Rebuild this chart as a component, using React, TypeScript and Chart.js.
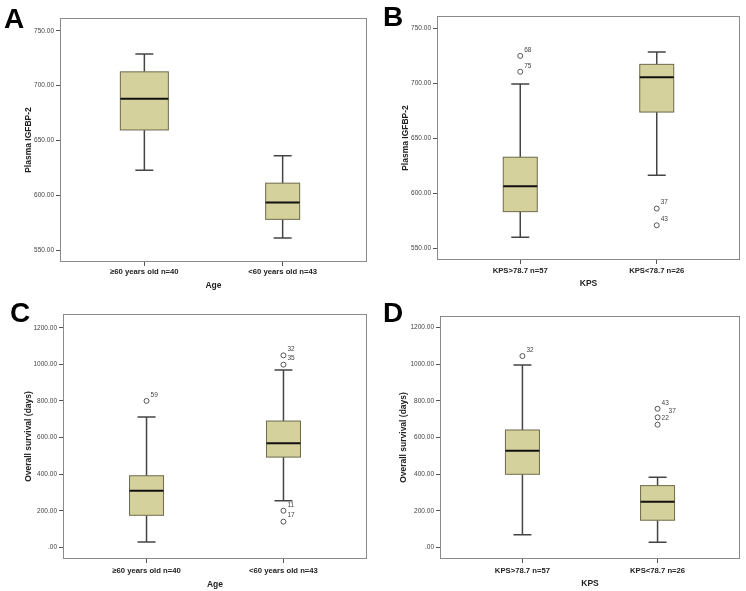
import React, { useEffect, useRef } from "react";
import { Chart, registerables } from "chart.js";
Chart.register(...registerables);

// ---------- data ----------
const AGE_GROUPS = ["≥60 years old n=40", "<60 years old n=43"];
const KPS_GROUPS = ["KPS>78.7 n=57", "KPS<78.7 n=26"];

const IGFBP_TICKS = [550, 600, 650, 700, 750];
const OS_TICKS = [0, 200, 400, 600, 800, 1000, 1200];

// [lower whisker, Q1, median, Q3, upper whisker]
const igfbpByAge = [
  [622.7, 659.5, 688, 712.5, 728.8],
  [561, 578, 593.4, 611, 636],
];
const igfbpByKps = [
  [560.3, 583.6, 606.6, 633, 699.4],
  [616.6, 674, 705.7, 717.3, 728.5],
];
const osByAge = [
  [29, 175, 309, 391, 712],
  [255, 493, 568, 690, 969],
];
const osByKps = [
  [69, 399, 528, 641, 996],
  [27, 148, 249, 337, 383],
];

// outliers: [group (1|2), value, case label]
const igfbpByAgeOutliers: [number, number, string][] = [];
const igfbpByKpsOutliers: [number, number, string][] = [
  [1, 725, "68"],
  [1, 710.6, "75"],
  [2, 586.4, "37"],
  [2, 571.2, "43"],
];
const osByAgeOutliers: [number, number, string][] = [
  [1, 800, "59"],
  [2, 1049, "32"],
  [2, 998, "35"],
  [2, 200, "11"],
  [2, 140, "17"],
];
const osByKpsOutliers: [number, number, string][] = [
  [1, 1045, "32"],
  [2, 757, "43"],
  [2, 710, "37"],
  [2, 670, "22"],
];

// ---------- styles ----------
const FONT = "'Liberation Sans', Arial, sans-serif";
const BOX_FILL = "#d5d19c";
const BOX_BORDER = "#6e6a4c";
const WHISKER = "#444";
const FRAME = "#8a8a8a";

type PanelCfg = {
  letter: string;
  left: number;
  top: number;
  w: number;
  h: number;
  area: { left: number; top: number; right: number; bottom: number };
  yMin: number;
  yMax: number;
  yTicks: number[];
  yTitle: string;
  yTitlePad: number;
  xTitle: string;
  xTitlePad: number;
  xLabelPad: number;
  cats: string[];
  boxes: number[][];
  boxWidths: number[];
  outliers: [number, number, string][];
  labelNudge?: Record<string, number>;
  letterPos: [number, number];
};

const PANELS: PanelCfg[] = [
  {
    letter: "A", left: 0, top: 0, w: 373, h: 295,
    area: { left: 60, top: 18, right: 367, bottom: 262 },
    yMin: 539.1, yMax: 761.6, yTicks: IGFBP_TICKS,
    yTitle: "Plasma IGFBP-2", yTitlePad: 23.4,
    xTitle: "Age", xTitlePad: 3.9, xLabelPad: 1.5,
    cats: AGE_GROUPS, boxes: igfbpByAge, boxWidths: [48, 34],
    outliers: igfbpByAgeOutliers, letterPos: [4, 28],
  },
  {
    letter: "B", left: 373, top: 0, w: 373, h: 295,
    area: { left: 64, top: 16, right: 367, bottom: 260 },
    yMin: 539.7, yMax: 761.2, yTicks: IGFBP_TICKS,
    yTitle: "Plasma IGFBP-2", yTitlePad: 27.6,
    xTitle: "KPS", xTitlePad: 5.9, xLabelPad: 2.1,
    cats: KPS_GROUPS, boxes: igfbpByKps, boxWidths: [34, 34],
    outliers: igfbpByKpsOutliers, letterPos: [10, 26],
  },
  {
    letter: "C", left: 0, top: 295, w: 373, h: 296,
    area: { left: 63, top: 19, right: 367, bottom: 264 },
    yMin: -63.9, yMax: 1274.9, yTicks: OS_TICKS,
    yTitle: "Overall survival (days)", yTitlePad: 23.2,
    xTitle: "Age", xTitlePad: 0.9, xLabelPad: 3.1,
    cats: AGE_GROUPS, boxes: osByAge, boxWidths: [34, 34],
    outliers: osByAgeOutliers, letterPos: [10, 27],
  },
  {
    letter: "D", left: 373, top: 295, w: 373, h: 296,
    area: { left: 67, top: 21, right: 367, bottom: 264 },
    yMin: -63.9, yMax: 1263.9, yTicks: OS_TICKS,
    yTitle: "Overall survival (days)", yTitlePad: 26,
    xTitle: "KPS", xTitlePad: 2.6, xLabelPad: 3.1,
    cats: KPS_GROUPS, boxes: osByKps, boxWidths: [34, 34],
    outliers: osByKpsOutliers, labelNudge: { "37": 7 }, letterPos: [10, 27],
  },
];

const boxPlugin = {
  id: "spssBoxes",
  beforeDatasetsDraw(chart: any, _args: any, opts: any) {
    const { ctx, chartArea: ca } = chart;
    const x = chart.scales.x;
    const y = chart.scales.y;
    const cfg: PanelCfg = opts.cfg;
    // frame
    ctx.save();
    ctx.strokeStyle = FRAME;
    ctx.lineWidth = 1;
    ctx.strokeRect(ca.left + 0.5, ca.top + 0.5, ca.right - ca.left - 1, ca.bottom - ca.top - 1);
    cfg.boxes.forEach((b, i) => {
      const cx = x.getPixelForValue(i + 1);
      const [lo, q1, med, q3, hi] = b.map((v) => y.getPixelForValue(v));
      const bw = cfg.boxWidths[i];
      const cap = 18;
      // whiskers
      ctx.strokeStyle = WHISKER;
      ctx.lineWidth = 1.5;
      ctx.beginPath();
      ctx.moveTo(cx, hi);
      ctx.lineTo(cx, q3);
      ctx.moveTo(cx, q1);
      ctx.lineTo(cx, lo);
      ctx.moveTo(cx - cap / 2, hi);
      ctx.lineTo(cx + cap / 2, hi);
      ctx.moveTo(cx - cap / 2, lo);
      ctx.lineTo(cx + cap / 2, lo);
      ctx.stroke();
      // box
      ctx.fillStyle = BOX_FILL;
      ctx.fillRect(cx - bw / 2, q3, bw, q1 - q3);
      ctx.strokeStyle = BOX_BORDER;
      ctx.lineWidth = 1;
      ctx.strokeRect(cx - bw / 2, q3, bw, q1 - q3);
      // median
      ctx.strokeStyle = "#111";
      ctx.lineWidth = 2;
      ctx.beginPath();
      ctx.moveTo(cx - bw / 2, med);
      ctx.lineTo(cx + bw / 2, med);
      ctx.stroke();
    });
    ctx.restore();
  },
  afterDatasetsDraw(chart: any, _args: any, opts: any) {
    const { ctx } = chart;
    const x = chart.scales.x;
    const y = chart.scales.y;
    const cfg: PanelCfg = opts.cfg;
    ctx.save();
    ctx.fillStyle = "#444";
    ctx.font = `6.5px ${FONT}`;
    ctx.textAlign = "left";
    ctx.textBaseline = "middle";
    cfg.outliers.forEach(([g, v, lab]) => {
      const px = x.getPixelForValue(g);
      const py = y.getPixelForValue(v);
      const nudge = (cfg.labelNudge && cfg.labelNudge[lab]) || 0;
      ctx.fillText(lab, px + 4 + nudge, py - 6);
    });
    // panel letter
    ctx.fillStyle = "#000";
    ctx.font = `bold 28px ${FONT}`;
    ctx.textBaseline = "alphabetic";
    ctx.fillText(cfg.letter, cfg.letterPos[0], cfg.letterPos[1]);
    ctx.restore();
  },
};

function BoxPanel({ cfg }: { cfg: PanelCfg }) {
  const ref = useRef<HTMLCanvasElement>(null);
  useEffect(() => {
    const chart = new Chart(ref.current as HTMLCanvasElement, {
      type: "scatter",
      data: {
        datasets: [
          {
            data: cfg.outliers.map(([g, v]) => ({ x: g, y: v })),
            pointRadius: 2.5,
            pointBorderWidth: 1,
            pointBorderColor: "#555",
            pointBackgroundColor: "#fff",
          },
        ],
      },
      options: {
        animation: false,
        responsive: false,
        maintainAspectRatio: false,
        events: [],
        layout: {
          padding: { left: 0, top: cfg.area.top, right: cfg.w - cfg.area.right, bottom: 0 },
        },
        plugins: {
          legend: { display: false },
          tooltip: { enabled: false },
          spssBoxes: { cfg },
        } as any,
        scales: {
          x: {
            type: "linear",
            min: 0.39,
            max: 2.61,
            afterBuildTicks: (s: any) => {
              s.ticks = cfg.cats.map((_, i) => ({ value: i + 1 }));
            },
            afterFit: (s: any) => {
              s.height = cfg.h - cfg.area.bottom;
            },
            ticks: {
              autoSkip: false,
              maxRotation: 0,
              padding: cfg.xLabelPad,
              color: "#222",
              font: { family: FONT, size: 7.7, weight: "bold" },
              callback: (v: any) => cfg.cats[Math.round(Number(v)) - 1] ?? "",
            },
            grid: { drawOnChartArea: false, drawTicks: true, tickLength: 4, color: "#555" },
            border: { display: false },
            title: {
              display: true,
              text: cfg.xTitle,
              color: "#222",
              font: { family: FONT, size: 8.5, weight: "bold" },
              padding: { top: 0, bottom: cfg.xTitlePad },
            },
          },
          y: {
            type: "linear",
            min: cfg.yMin,
            max: cfg.yMax,
            afterBuildTicks: (s: any) => {
              s.ticks = cfg.yTicks.map((v) => ({ value: v }));
            },
            afterFit: (s: any) => {
              s.width = cfg.area.left;
            },
            ticks: {
              padding: 2,
              color: "#444",
              font: { family: FONT, size: 6.5 },
              callback: (v: any) => (Number(v) === 0 ? ".00" : Number(v).toFixed(2)),
            },
            grid: { drawOnChartArea: false, drawTicks: true, tickLength: 4, color: "#555" },
            border: { display: false },
            title: {
              display: true,
              text: cfg.yTitle,
              color: "#222",
              font: { family: FONT, size: 8.5, weight: "bold" },
              padding: { top: cfg.yTitlePad, bottom: 0 },
            },
          },
        },
      },
      plugins: [boxPlugin as any],
    });
    return () => chart.destroy();
  }, [cfg]);
  return (
    <canvas
      ref={ref}
      width={cfg.w}
      height={cfg.h}
      style={{ position: "absolute", left: cfg.left, top: cfg.top, width: cfg.w, height: cfg.h }}
    />
  );
}

export default function App() {
  return (
    <div style={{ position: "absolute", left: 0, top: 0, width: 746, height: 591, background: "#fff" }}>
      {PANELS.map((p) => (
        <BoxPanel key={p.letter} cfg={p} />
      ))}
    </div>
  );
}
